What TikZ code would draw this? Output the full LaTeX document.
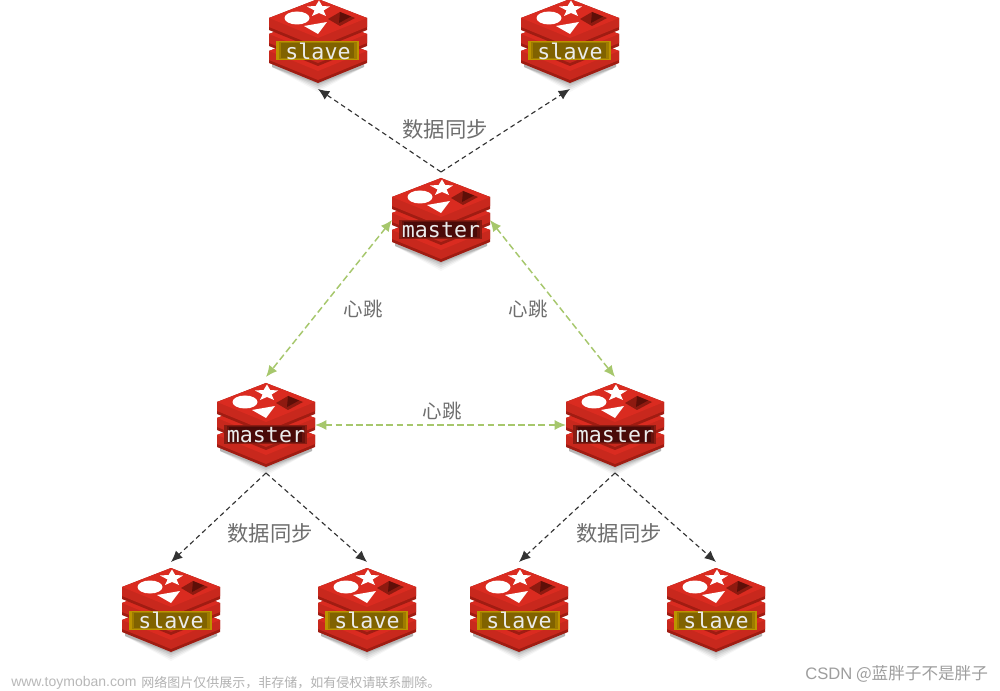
\documentclass[tikz,border=0pt]{standalone}
\usepackage{fontspec}
\newfontfamily\cjk{Noto Sans CJK SC}
\newfontfamily\latinsans{Liberation Sans}
\newfontfamily\labelmono{DejaVu Sans Mono}
\usetikzlibrary{arrows.meta}
\definecolor{rtop}{HTML}{DA2B20}
\definecolor{rface}{HTML}{C8281D}
\definecolor{rdark}{HTML}{A01C12}
\definecolor{rhole}{HTML}{8E1A10}
\definecolor{rholedeep}{HTML}{5E0F08}
\definecolor{hbgreen}{HTML}{A6C76C}
\definecolor{txtgray}{HTML}{6E6E6E}
\definecolor{goldedge}{HTML}{BC9400}
\definecolor{goldmid}{HTML}{806200}
\definecolor{maroonedge}{HTML}{8A1C12}
\definecolor{maroonmid}{HTML}{4A0A08}
\tikzset{
  hub/.style={minimum width=73.5pt,minimum height=63pt,inner sep=0pt,outer xsep=0pt,outer ysep=4.5pt},
  syncedge/.style={draw=black!80,line width=0.85pt,dash pattern=on 3.6pt off 2.6pt,-{Latex[length=8.5pt,width=7.5pt]}},
  beat/.style={draw=hbgreen,line width=1.1pt,dash pattern=on 5pt off 2.6pt,{Latex[length=8.5pt,width=7.5pt]}-{Latex[length=8.5pt,width=7.5pt]}},
  edgetext/.style={text=txtgray,font=\cjk\fontsize{16}{18}\selectfont,inner sep=0pt},
  beattext/.style={text=txtgray,font=\cjk\fontsize{14.6}{17}\selectfont,inner sep=0pt},
  iconlabel/.style={text=white!92!black,font=\labelmono\fontsize{16.2}{18}\selectfont,inner sep=0pt},
}
\newcommand\slabpair[1]{%
  \fill[rdark] (-49,-23+#1) -- (-49,-11+#1) -- (0,9+#1) -- (49,-11+#1) -- (49,-23+#1) -- (0,-42+#1) -- cycle;
  \fill[rface] (-49,-23+#1) -- (-49,-14+#1) -- (0,6+#1) -- (49,-14+#1) -- (49,-23+#1) -- cycle;
  \fill[rtop] (0,-42+#1) -- (49,-23+#1) -- (0,-3+#1) -- (-49,-23+#1) -- cycle;
}
% name, x, y, text, edge colour, centre colour
\newcommand\redisicon[6]{%
  \begin{scope}[shift={(#2,#3)}]
    \foreach \s/\o in {9/0.03,7/0.05,5/0.06,3/0.08,1/0.10}{
      \fill[black,opacity=\o] (-46,26) -- (0,42+\s) -- (46,26) -- (46,14) -- (-46,14) -- cycle;
    }
    \slabpair{33}
    \slabpair{16}
    \slabpair{0}
    \fill[white] (-21,-23) ellipse (12.5 and 6.5);
    \fill[white] (1,-40.5) -- (4.2,-35) -- (12,-34.5) -- (5.6,-30.5) -- (8,-25) -- (1,-28) -- (-6,-25) -- (-3.4,-30.5) -- (-11,-34.5) -- (-2.4,-35) -- cycle;
    \fill[white] (-14,-15) -- (9,-19) -- (0,-7) -- cycle;
    \fill[rhole] (22,-29) -- (37,-23) -- (22,-15) -- (10,-22) -- cycle;
    \fill[rholedeep] (22,-29) -- (33,-24.5) -- (21,-18) -- cycle;
    \fill[#5] (-42,0.5) rectangle (41,19.5);
    \fill[#6!50!#5] (-39.5,1.5) rectangle (38.5,18.5);
    \fill[#6] (-37,2.5) rectangle (36,17.5);
  \end{scope}
  \node[hub] (#1) at (#2,#3) {};
  \node[iconlabel] (#1text) at (#2,#3+10) {#4};
}
\begin{document}
\begin{tikzpicture}[x=0.75pt,y=-0.75pt]
\useasboundingbox[fill=white] (0,0) rectangle (1000,691);
\begin{scope}
\clip (0,0) rectangle (1000,691);
\redisicon{sa}{318}{41}{slave}{goldedge}{goldmid}
\redisicon{sb}{570}{41}{slave}{goldedge}{goldmid}
\redisicon{ma}{441}{220}{master}{maroonedge}{maroonmid}
\redisicon{mb}{266}{425}{master}{maroonedge}{maroonmid}
\redisicon{mc}{615}{425}{master}{maroonedge}{maroonmid}
\redisicon{sc}{171}{610}{slave}{goldedge}{goldmid}
\redisicon{sd}{367}{610}{slave}{goldedge}{goldmid}
\redisicon{se}{519}{610}{slave}{goldedge}{goldmid}
\redisicon{sf}{716}{610}{slave}{goldedge}{goldmid}
\end{scope}
\draw[syncedge] (ma.north) -- (sa.south);
\draw[syncedge] (ma.north) -- (sb.south);
\draw[syncedge] (mb.south) -- (sc.north);
\draw[syncedge] (mb.south) -- (sd.north);
\draw[syncedge] (mc.south) -- (se.north);
\draw[syncedge] (mc.south) -- (sf.north);
\draw[beat] (ma.west) -- (mb.north);
\draw[beat] (ma.east) -- (mc.north);
\draw[beat] (mb.east) -- (mc.west);
\node[edgetext] (t1) at (445,129) {数据同步};
\node[edgetext] (t2) at (270,533) {数据同步};
\node[edgetext] (t3) at (619,533) {数据同步};
\node[beattext] (t4) at (363,309) {心跳};
\node[beattext] (t5) at (528,309) {心跳};
\node[beattext] (t6) at (442,411) {心跳};
\node[anchor=west,inner sep=0pt,text=black!28,font=\latinsans\fontsize{10.5}{12}\selectfont] (w1) at (11,683) {www.toymoban.com};
\node[anchor=west,inner sep=0pt,text=black!30,font=\cjk\fontsize{9.75}{11}\selectfont] (w2) at (141,683) {网络图片仅供展示，非存储，如有侵权请联系删除。};
\node[anchor=west,inner sep=0pt,text=black!38,font=\cjk\fontsize{12.45}{15}\selectfont] (w3) at (805,674) {{\latinsans CSDN} @蓝胖子不是胖子};
\end{tikzpicture}
\end{document}
